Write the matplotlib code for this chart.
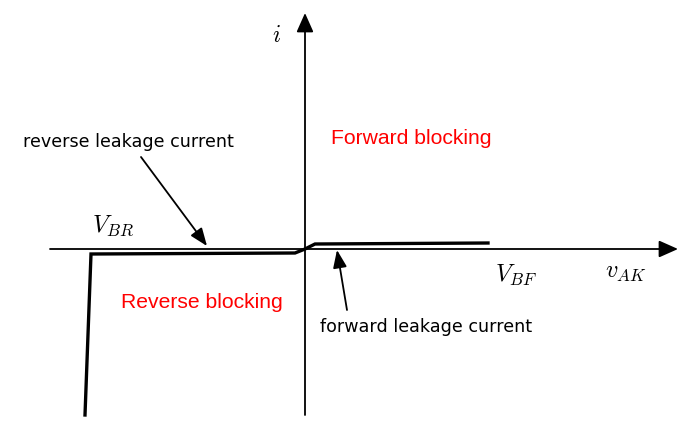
import matplotlib
matplotlib.use("Agg")
import matplotlib.pyplot as plt

plt.rcParams['mathtext.fontset'] = 'cm'

# coordinates relative to the origin (x right, i up), in pixel-like units
x_axis = [-255, 373]
i_axis = [-166, 236]
curve_v = [-220, -214, -10, 0, 10, 183]
curve_i = [-166, -5, -4, 0, 5, 6]

labels = {
    "i": (-29, 214),
    "vAK": (321, -23),
    "VBR": (-192, 23),
    "VBF": (211, -26),
}
rev_text = "reverse leakage current"
fwd_text = "forward leakage current"

fig = plt.figure(figsize=(6.93, 4.25), dpi=100)
ax = fig.add_axes([0, 0, 1, 1])
ax.set_xlim(-305, 388)
ax.set_ylim(-176, 249)
ax.axis('off')

arrow_kw = dict(arrowstyle='-|>,head_length=0.9,head_width=0.4', color='black',
                lw=1.3, mutation_scale=13, shrinkA=0, shrinkB=0)
ax.annotate("", xy=(x_axis[1], 0), xytext=(x_axis[0], 0), arrowprops=arrow_kw)
ax.annotate("", xy=(0, i_axis[1]), xytext=(0, i_axis[0]), arrowprops=arrow_kw)

ax.plot(curve_v, curve_i, color='black', lw=2.4, solid_joinstyle='miter')

ax.text(*labels["i"], "$i$", fontsize=17, ha='center', va='center')
ax.text(*labels["vAK"], "$v_{AK}$", fontsize=17.5, ha='center', va='center')
ax.text(*labels["VBR"], "$V_{BR}$", fontsize=17.5, ha='center', va='center')
ax.text(*labels["VBF"], "$V_{BF}$", fontsize=17.5, ha='center', va='center')

ax.text(-177, 107, rev_text, fontsize=12.6, ha='center', va='center')
ax.text(121, -78, fwd_text, fontsize=12.6, ha='center', va='center')

ax.text(106, 111, "Forward blocking", fontsize=15.2, color='red', ha='center',
        va='center', family='Liberation Sans')
ax.text(-103, -53, "Reverse blocking", fontsize=15.2, color='red', ha='center',
        va='center', family='Liberation Sans')

pt_kw = dict(arrowstyle='-|>,head_length=0.9,head_width=0.35', color='black',
             lw=1.3, mutation_scale=12, shrinkA=0, shrinkB=0)
ax.annotate("", xy=(-98, 3), xytext=(-164, 92), arrowprops=pt_kw)
ax.annotate("", xy=(32, -1), xytext=(42, -61), arrowprops=pt_kw)

fig.savefig("out.png", dpi=100)
